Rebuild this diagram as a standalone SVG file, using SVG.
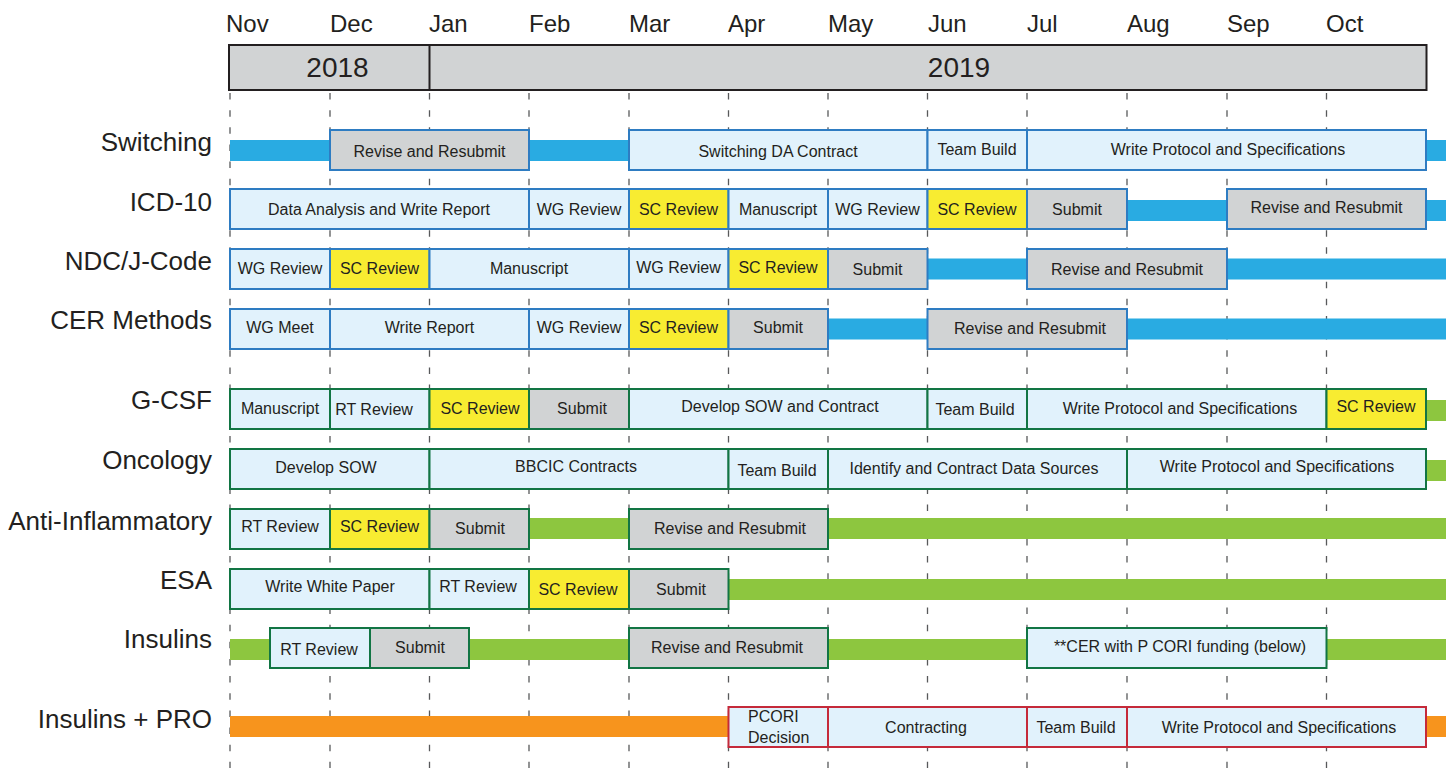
<svg xmlns="http://www.w3.org/2000/svg" width="1452" height="768" viewBox="0 0 1452 768">
<style>
.bg{fill:#ffffff}
.mon{font-family:"Liberation Sans",Arial,sans-serif;font-size:24px;fill:#231f20}
.yr{font-family:"Liberation Sans",Arial,sans-serif;font-size:28px;fill:#231f20;text-anchor:middle}
.lab{font-family:"Liberation Sans",Arial,sans-serif;font-size:26px;fill:#231f20;text-anchor:end}
.t{font-family:"Liberation Sans",Arial,sans-serif;font-size:16px;fill:#231f20;text-anchor:middle}
.tl{font-family:"Liberation Sans",Arial,sans-serif;font-size:16px;fill:#231f20}
.dash{stroke:#58595b;stroke-width:1.3;stroke-dasharray:6.5 10.65;fill:none}
.barB{fill:#29abe2}
.barG{fill:#8dc63f}
.barO{fill:#f7941d}
.lb{fill:#e1f2fc}
.gr{fill:#d1d3d4}
.ye{fill:#f8ec31}
.sb{stroke:#2e7cc2;stroke-width:2}
.sg{stroke:#127544;stroke-width:2}
.sr{stroke:#c52a3a;stroke-width:2}
</style>
<rect class="bg" x="0" y="0" width="1452" height="768"/>

<g id="header">
<text class="mon" x="226" y="32">Nov</text>
<text class="mon" x="330" y="32">Dec</text>
<text class="mon" x="429" y="32">Jan</text>
<text class="mon" x="529" y="32">Feb</text>
<text class="mon" x="629" y="32">Mar</text>
<text class="mon" x="728" y="32">Apr</text>
<text class="mon" x="828" y="32">May</text>
<text class="mon" x="928" y="32">Jun</text>
<text class="mon" x="1027" y="32">Jul</text>
<text class="mon" x="1127" y="32">Aug</text>
<text class="mon" x="1227" y="32">Sep</text>
<text class="mon" x="1326" y="32">Oct</text>
<rect x="229" y="45" width="1197.5" height="45" fill="#d1d3d4" stroke="#231f20" stroke-width="2"/>
<line x1="429.5" y1="45" x2="429.5" y2="90" stroke="#231f20" stroke-width="2"/>
<text class="yr" x="337.5" y="77">2018</text>
<text class="yr" x="959" y="77">2019</text>
</g>

<g id="gridlines">
<line class="dash" x1="230" y1="93" x2="230" y2="768"/>
<line class="dash" x1="330" y1="93" x2="330" y2="768"/>
<line class="dash" x1="429.5" y1="93" x2="429.5" y2="768"/>
<line class="dash" x1="529" y1="93" x2="529" y2="768"/>
<line class="dash" x1="629" y1="93" x2="629" y2="768"/>
<line class="dash" x1="728.5" y1="93" x2="728.5" y2="768"/>
<line class="dash" x1="828" y1="93" x2="828" y2="768"/>
<line class="dash" x1="927.5" y1="93" x2="927.5" y2="768"/>
<line class="dash" x1="1027" y1="93" x2="1027" y2="768"/>
<line class="dash" x1="1127" y1="93" x2="1127" y2="768"/>
<line class="dash" x1="1227" y1="93" x2="1227" y2="768"/>
<line class="dash" x1="1326.5" y1="93" x2="1326.5" y2="768"/>
</g>

<g id="labels">
<text class="lab" x="212" y="151">Switching</text>
<text class="lab" x="212" y="211">ICD-10</text>
<text class="lab" x="212" y="270">NDC/J-Code</text>
<text class="lab" x="212" y="329">CER Methods</text>
<text class="lab" x="212" y="409">G-CSF</text>
<text class="lab" x="212" y="469">Oncology</text>
<text class="lab" x="212" y="530">Anti-Inflammatory</text>
<text class="lab" x="212" y="589">ESA</text>
<text class="lab" x="212" y="648">Insulins</text>
<text class="lab" x="212" y="728">Insulins + PRO</text>
</g>

<g id="connectors">
<rect class="barB" x="230" y="140" width="100" height="21"/>
<rect class="barB" x="529" y="140" width="100" height="21"/>
<rect class="barB" x="1426" y="140" width="20" height="21"/>
<rect class="barB" x="1127" y="200" width="100" height="21"/>
<rect class="barB" x="1426" y="200" width="20" height="21"/>
<rect class="barB" x="927.5" y="258.5" width="99.5" height="21"/>
<rect class="barB" x="1227" y="258.5" width="219" height="21"/>
<rect class="barB" x="828" y="318.5" width="99.5" height="21"/>
<rect class="barB" x="1127" y="318.5" width="319" height="21"/>
<rect class="barG" x="1426" y="400" width="20" height="21"/>
<rect class="barG" x="1426" y="460" width="20" height="21"/>
<rect class="barG" x="529" y="518" width="100" height="21"/>
<rect class="barG" x="828" y="518" width="618" height="21"/>
<rect class="barG" x="728.5" y="579" width="717.5" height="21"/>
<rect class="barG" x="230" y="639" width="40" height="21"/>
<rect class="barG" x="469" y="639" width="160" height="21"/>
<rect class="barG" x="828" y="639" width="199" height="21"/>
<rect class="barG" x="1326.5" y="639" width="119.5" height="21"/>
<rect class="barO" x="230" y="716" width="498.5" height="21"/>
<rect class="barO" x="1426" y="716" width="20" height="21"/>
</g>

<g id="row-switching">
<rect class="gr sb" x="330" y="130" width="199" height="40"/>
<text class="t" x="429.5" y="157">Revise and Resubmit</text>
<rect class="lb sb" x="629" y="130" width="298.5" height="40"/>
<text class="t" x="778" y="157">Switching DA Contract</text>
<rect class="lb sb" x="927.5" y="130" width="99.5" height="40"/>
<text class="t" x="977" y="155">Team Build</text>
<rect class="lb sb" x="1027" y="130" width="399" height="40"/>
<text class="t" x="1228" y="155">Write Protocol and Specifications</text>
</g>

<g id="row-icd10">
<rect class="lb sb" x="230" y="189" width="299" height="40"/>
<text class="t" x="379" y="215">Data Analysis and Write Report</text>
<rect class="lb sb" x="529" y="189" width="100" height="40"/>
<text class="t" x="579" y="215">WG Review</text>
<rect class="ye sb" x="629" y="189" width="99.5" height="40"/>
<text class="t" x="678.5" y="215">SC Review</text>
<rect class="lb sb" x="728.5" y="189" width="99.5" height="40"/>
<text class="t" x="778" y="215">Manuscript</text>
<rect class="lb sb" x="828" y="189" width="99.5" height="40"/>
<text class="t" x="877.5" y="215">WG Review</text>
<rect class="ye sb" x="927.5" y="189" width="99.5" height="40"/>
<text class="t" x="977" y="215">SC Review</text>
<rect class="gr sb" x="1027" y="189" width="100" height="40"/>
<text class="t" x="1077" y="215">Submit</text>
<rect class="gr sb" x="1227" y="189" width="199" height="40"/>
<text class="t" x="1326.5" y="213">Revise and Resubmit</text>
</g>

<g id="row-ndc">
<rect class="lb sb" x="230" y="249" width="100" height="40"/>
<text class="t" x="280" y="274">WG Review</text>
<rect class="ye sb" x="330" y="249" width="99.5" height="40"/>
<text class="t" x="379.5" y="274">SC Review</text>
<rect class="lb sb" x="429.5" y="249" width="199.5" height="40"/>
<text class="t" x="529" y="274">Manuscript</text>
<rect class="lb sb" x="629" y="249" width="99.5" height="40"/>
<text class="t" x="678.5" y="273">WG Review</text>
<rect class="ye sb" x="728.5" y="249" width="99.5" height="40"/>
<text class="t" x="778" y="273">SC Review</text>
<rect class="gr sb" x="828" y="249" width="99.5" height="40"/>
<text class="t" x="877.5" y="275">Submit</text>
<rect class="gr sb" x="1027" y="249" width="200" height="40"/>
<text class="t" x="1127" y="275">Revise and Resubmit</text>
</g>

<g id="row-cer">
<rect class="lb sb" x="230" y="309" width="100" height="40"/>
<text class="t" x="280" y="333">WG Meet</text>
<rect class="lb sb" x="330" y="309" width="199" height="40"/>
<text class="t" x="429.5" y="333">Write Report</text>
<rect class="lb sb" x="529" y="309" width="100" height="40"/>
<text class="t" x="579" y="333">WG Review</text>
<rect class="ye sb" x="629" y="309" width="99.5" height="40"/>
<text class="t" x="678.5" y="333">SC Review</text>
<rect class="gr sb" x="728.5" y="309" width="99.5" height="40"/>
<text class="t" x="778" y="333">Submit</text>
<rect class="gr sb" x="927.5" y="309" width="199.5" height="40"/>
<text class="t" x="1030" y="334">Revise and Resubmit</text>
</g>

<g id="row-gcsf">
<rect class="lb sg" x="230" y="389" width="100" height="40"/>
<text class="t" x="280" y="414">Manuscript</text>
<rect class="lb sg" x="330" y="389" width="99.5" height="40"/>
<text class="t" x="374" y="415">RT Review</text>
<rect class="ye sg" x="429.5" y="389" width="99.5" height="40"/>
<text class="t" x="480" y="414">SC Review</text>
<rect class="gr sg" x="529" y="389" width="100" height="40"/>
<text class="t" x="582" y="414">Submit</text>
<rect class="lb sg" x="629" y="389" width="298.5" height="40"/>
<text class="t" x="780" y="412">Develop SOW and Contract</text>
<rect class="lb sg" x="927.5" y="389" width="99.5" height="40"/>
<text class="t" x="975" y="415">Team Build</text>
<rect class="lb sg" x="1027" y="389" width="299.5" height="40"/>
<text class="t" x="1180" y="414">Write Protocol and Specifications</text>
<rect class="ye sg" x="1326.5" y="389" width="99.5" height="40"/>
<text class="t" x="1376" y="412">SC Review</text>
</g>

<g id="row-oncology">
<rect class="lb sg" x="230" y="449" width="199.5" height="40"/>
<text class="t" x="326" y="473">Develop SOW</text>
<rect class="lb sg" x="429.5" y="449" width="299" height="40"/>
<text class="t" x="576" y="472">BBCIC Contracts</text>
<rect class="lb sg" x="728.5" y="449" width="99.5" height="40"/>
<text class="t" x="777" y="476">Team Build</text>
<rect class="lb sg" x="828" y="449" width="299" height="40"/>
<text class="t" x="974" y="474">Identify and Contract Data Sources</text>
<rect class="lb sg" x="1127" y="449" width="299" height="40"/>
<text class="t" x="1277" y="472">Write Protocol and Specifications</text>
</g>

<g id="row-antiinflammatory">
<rect class="lb sg" x="230" y="509" width="100" height="40"/>
<text class="t" x="280" y="532">RT Review</text>
<rect class="ye sg" x="330" y="509" width="99.5" height="40"/>
<text class="t" x="379.5" y="532">SC Review</text>
<rect class="gr sg" x="429.5" y="509" width="99.5" height="40"/>
<text class="t" x="480" y="534">Submit</text>
<rect class="gr sg" x="629" y="509" width="199" height="40"/>
<text class="t" x="730" y="534">Revise and Resubmit</text>
</g>

<g id="row-esa">
<rect class="lb sg" x="230" y="569" width="199.5" height="40"/>
<text class="t" x="330" y="592">Write White Paper</text>
<rect class="lb sg" x="429.5" y="569" width="99.5" height="40"/>
<text class="t" x="478" y="592">RT Review</text>
<rect class="ye sg" x="529" y="569" width="100" height="40"/>
<text class="t" x="578" y="595">SC Review</text>
<rect class="gr sg" x="629" y="569" width="99.5" height="40"/>
<text class="t" x="681" y="595">Submit</text>
</g>

<g id="row-insulins">
<rect class="lb sg" x="270" y="628" width="100" height="40"/>
<text class="t" x="319" y="655">RT Review</text>
<rect class="gr sg" x="370" y="628" width="99" height="40"/>
<text class="t" x="420" y="653">Submit</text>
<rect class="gr sg" x="629" y="628" width="199" height="40"/>
<text class="t" x="727" y="653">Revise and Resubmit</text>
<rect class="lb sg" x="1027" y="628" width="299.5" height="40"/>
<text class="t" x="1180" y="652">**CER with P CORI funding (below)</text>
</g>

<g id="row-insulins-pro">
<rect class="lb sr" x="728.5" y="707" width="99.5" height="40"/>
<text class="tl" x="748" y="722">PCORI</text>
<text class="tl" x="748" y="743">Decision</text>
<rect class="lb sr" x="828" y="707" width="199" height="40"/>
<text class="t" x="926" y="733">Contracting</text>
<rect class="lb sr" x="1027" y="707" width="100" height="40"/>
<text class="t" x="1076" y="733">Team Build</text>
<rect class="lb sr" x="1127" y="707" width="299" height="40"/>
<text class="t" x="1279" y="733">Write Protocol and Specifications</text>
</g>
</svg>
